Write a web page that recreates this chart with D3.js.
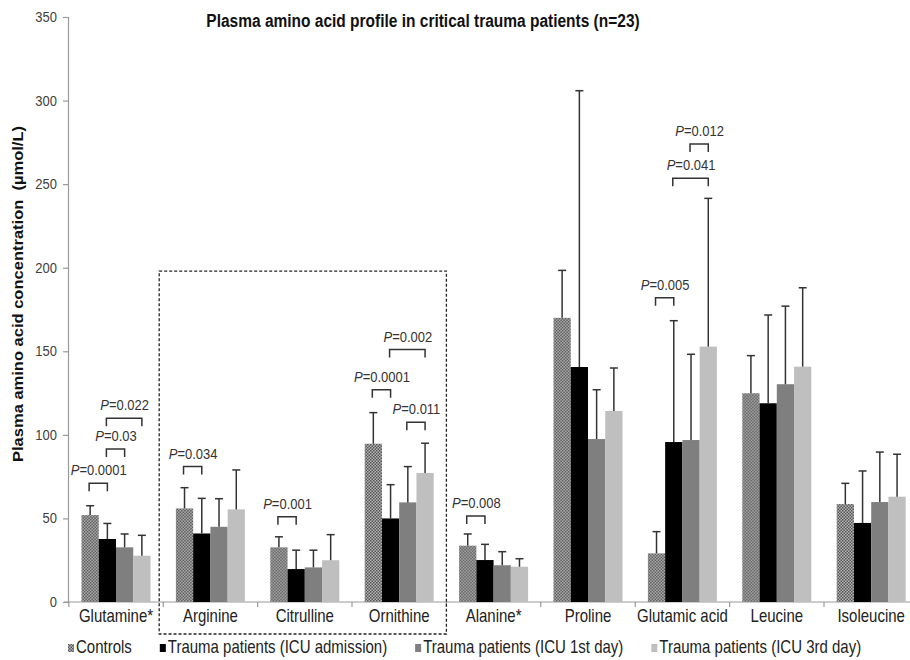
<!DOCTYPE html>
<html>
<head>
<meta charset="utf-8">
<script src="https://cdn.jsdelivr.net/npm/d3@7/dist/d3.min.js"></script>
<style>
  html, body { margin: 0; padding: 0; background: #fff; }
  svg { display: block; }
  text { font-family: "Liberation Sans", Arial, sans-serif; white-space: pre; }
</style>
</head>
<body>
<svg id="chart" width="910" height="660"></svg>
<script>
// Amino acids on the x axis
const categories = ["Glutamine*", "Arginine", "Citrulline", "Ornithine", "Alanine*",
                    "Proline", "Glutamic acid", "Leucine", "Isoleucine"];
const seriesNames = ["Controls", "Trauma patients (ICU admission)",
                     "Trauma patients (ICU 1st day)", "Trauma patients (ICU 3rd day)"];

// Mean plasma concentration (µmol/L)
const controls     = [52.0, 56.0, 32.7, 94.7, 33.7, 170.0, 29.1, 124.9, 58.6];
const icuAdmission = [37.7, 41.0, 19.7, 50.0, 25.1, 140.6, 95.7, 118.9, 47.3];
const icuDay1      = [32.7, 45.0, 20.7, 59.6, 22.0, 97.5, 96.9, 130.3, 59.8];
const icuDay3      = [27.7, 55.4, 25.0, 77.2, 21.1, 114.3, 152.8, 140.8, 63.0];

// Standard deviations (upper error bars)
const controlsSD     = [5.6, 12.4, 6.3, 18.6, 7.0, 28.4, 13.0, 22.5, 12.4];
const icuAdmissionSD = [9.3, 21.0, 11.3, 20.2, 9.4, 165.3, 72.6, 52.8, 31.1];
const icuDay1SD      = [8.0, 16.8, 10.3, 21.4, 8.1, 29.5, 51.3, 46.7, 29.9];
const icuDay3SD      = [12.2, 23.6, 15.3, 17.8, 4.8, 25.7, 88.7, 47.2, 25.4];

const yTicks = [0, 50, 100, 150, 200, 250, 300, 350];

// Significant pairwise comparisons: [amino acid, group a, group b, P value, bracket level µmol/L]
const comparisons = [
  ["Glutamine*", 0, 1, "0.0001", 71],
  ["Glutamine*", 1, 2, "0.03", 91.5],
  ["Glutamine*", 1, 3, "0.022", 110],
  ["Arginine", 0, 1, "0.034", 81],
  ["Citrulline", 0, 1, "0.001", 51],
  ["Ornithine", 0, 1, "0.0001", 127],
  ["Ornithine", 1, 3, "0.002", 151],
  ["Ornithine", 2, 3, "0.011", 107.5],
  ["Alanine*", 0, 1, "0.008", 51.5],
  ["Glutamic acid", 0, 1, "0.005", 182],
  ["Glutamic acid", 1, 3, "0.041", 253.5],
  ["Glutamic acid", 2, 3, "0.012", 274]
];

// Urea-cycle amino acids framed by the dashed box
const boxedGroup = ["Arginine", "Citrulline", "Ornithine"];

const means = [controls, icuAdmission, icuDay1, icuDay3];
const sds = [controlsSD, icuAdmissionSD, icuDay1SD, icuDay3SD];

const svg = d3.select("#chart");
const STRETCH = 1.18; // text is drawn taller than its natural proportions

// Fills: controls use a fine checker pattern
const defs = svg.append("defs");
const pat = defs.append("pattern").attr("id", "checker")
  .attr("patternUnits", "userSpaceOnUse").attr("width", 3).attr("height", 3);
pat.append("rect").attr("width", 3).attr("height", 3).attr("fill", "#b4b4b4");
pat.append("rect").attr("width", 1.5).attr("height", 1.5).attr("fill", "#555");
pat.append("rect").attr("x", 1.5).attr("y", 1.5).attr("width", 1.5).attr("height", 1.5).attr("fill", "#555");
const fills = ["url(#checker)", "#000000", "#7f7f7f", "#bfbfbf"];

const y = d3.scaleLinear().domain([0, 350]).range([602, 17]);
const x0 = d3.scaleBand().domain(categories).range([68.8, 918.4]).paddingInner(0).paddingOuter(0);
const x1 = d3.scaleBand().domain(d3.range(4)).range([0, x0.bandwidth()]).paddingInner(0).paddingOuter(0.736);

// Title
svg.append("text")
  .attr("transform", `translate(423,27) scale(1,${STRETCH})`)
  .attr("text-anchor", "middle")
  .attr("font-weight", "bold").attr("font-size", 15.5).attr("fill", "#111")
  .text("Plasma amino acid profile in critical trauma patients (n=23)");

// Y axis
const yAxis = svg.append("g").attr("transform", "translate(68,0)")
  .call(d3.axisLeft(y).tickValues(yTicks).tickSize(5).tickPadding(6).tickFormat(d3.format("d")));
yAxis.select(".domain").attr("stroke", "#999").attr("stroke-width", 1.2);
yAxis.selectAll(".tick line").attr("stroke", "#999").attr("stroke-width", 1.2);
yAxis.selectAll(".tick text")
  .attr("font-size", 13).attr("fill", "#404040")
  .attr("font-family", "'Liberation Sans', Arial, sans-serif")
  .attr("dy", null)
  .each(function () {
    const t = d3.select(this);
    const xx = +t.attr("x");
    t.attr("x", null).attr("transform", `translate(${xx},4.5) scale(1,${STRETCH})`);
  });

svg.append("text")
  .attr("transform", `translate(23,294) rotate(-90) scale(${STRETCH},1)`)
  .attr("text-anchor", "middle")
  .attr("font-weight", "bold").attr("font-size", 14).attr("fill", "#111")
  .text("Plasma amino acid concentration  (µmol/L)");

// X axis baseline and category separators
svg.append("line").attr("x1", 64).attr("x2", 910).attr("y1", y(0)).attr("y2", y(0))
  .attr("stroke", "#999").attr("stroke-width", 1.2);
svg.append("g").selectAll("line")
  .data(categories.concat([null]))
  .join("line")
  .attr("x1", (d, i) => x0.range()[0] + i * x0.step())
  .attr("x2", (d, i) => x0.range()[0] + i * x0.step())
  .attr("y1", y(0)).attr("y2", y(0) + 5)
  .attr("stroke", "#999").attr("stroke-width", 1.2);

svg.append("g").selectAll("text")
  .data(categories)
  .join("text")
  .attr("transform", d => `translate(${x0(d) + x0.bandwidth() / 2},622) scale(1,${STRETCH})`)
  .attr("text-anchor", "middle")
  .attr("font-size", 15).attr("fill", "#222")
  .text(d => d);

// Bars
const groups = svg.append("g").selectAll("g")
  .data(categories)
  .join("g")
  .attr("transform", d => `translate(${x0(d)},0)`);

groups.selectAll("rect")
  .data((d, ci) => means.map((s, si) => ({ si, v: s[ci], sd: sds[si][ci] })))
  .join("rect")
  .attr("x", d => x1(d.si))
  .attr("width", x1.bandwidth())
  .attr("y", d => y(d.v))
  .attr("height", d => y(0) - y(d.v))
  .attr("fill", d => fills[d.si]);

// Upper error bars
const err = groups.selectAll("g.err")
  .data((d, ci) => means.map((s, si) => ({ si, v: s[ci], sd: sds[si][ci] })))
  .join("g").attr("class", "err");
err.append("line")
  .attr("x1", d => x1(d.si) + x1.bandwidth() / 2)
  .attr("x2", d => x1(d.si) + x1.bandwidth() / 2)
  .attr("y1", d => y(d.v)).attr("y2", d => y(d.v + d.sd))
  .attr("stroke", "#333").attr("stroke-width", 1.5);
err.append("line")
  .attr("x1", d => x1(d.si) + x1.bandwidth() / 2 - 4)
  .attr("x2", d => x1(d.si) + x1.bandwidth() / 2 + 4)
  .attr("y1", d => y(d.v + d.sd)).attr("y2", d => y(d.v + d.sd))
  .attr("stroke", "#333").attr("stroke-width", 1.5);

// Significance brackets
const cx = (cat, si) => x0(cat) + x1(si) + x1.bandwidth() / 2;
const brk = svg.append("g").selectAll("g")
  .data(comparisons)
  .join("g");
brk.append("path")
  .attr("d", d => {
    const xa = cx(d[0], d[1]) - 1, xb = cx(d[0], d[2]), yt = y(d[4]);
    return `M${xa},${yt + 8}V${yt}H${xb}V${yt + 8}`;
  })
  .attr("fill", "none").attr("stroke", "#333").attr("stroke-width", 1.5);
const pt = brk.append("text")
  .attr("transform", d => `translate(${(cx(d[0], d[1]) + cx(d[0], d[2])) / 2},${y(d[4]) - 8}) scale(1,${STRETCH})`)
  .attr("text-anchor", "middle")
  .attr("font-size", 13).attr("fill", "#333");
pt.append("tspan").attr("font-style", "italic").text("P");
pt.append("tspan").text(d => "=" + d[3]);

// Dashed frame around the urea-cycle group
const bx0 = x0(boxedGroup[0]) - 4;
const bx1 = x0(boxedGroup[boxedGroup.length - 1]) + x0.bandwidth();
svg.append("rect")
  .attr("x", bx0).attr("y", y(198))
  .attr("width", bx1 - bx0).attr("height", 634 - y(198))
  .attr("fill", "none").attr("stroke", "#222").attr("stroke-width", 1.3)
  .attr("stroke-dasharray", "3,2");

// Legend
const legend = svg.append("g");
let lx = 68;
seriesNames.forEach((name, i) => {
  legend.append("rect").attr("x", lx).attr("y", 644).attr("width", 6).attr("height", 8)
    .attr("fill", fills[i]);
  const t = legend.append("text")
    .attr("transform", `translate(${lx + 8},653) scale(1,${STRETCH})`)
    .attr("font-size", 15).attr("fill", "#222")
    .text(name);
  lx += 8 + t.node().getComputedTextLength() + 28;
});
</script>
</body>
</html>
